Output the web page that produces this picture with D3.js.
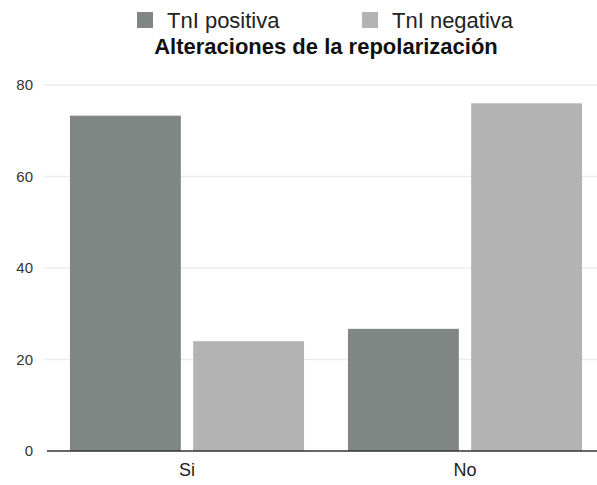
<!DOCTYPE html>
<html>
<head>
<meta charset="utf-8">
<script src="https://cdn.jsdelivr.net/npm/d3@7"></script>
<style>
  html, body { margin: 0; padding: 0; background: #fff; }
  svg { display: block; font-family: "Liberation Sans", Arial, Helvetica, sans-serif; }
</style>
</head>
<body>
<svg id="chart" width="597" height="485"></svg>
<script>
const categories = ["Si", "No"];
const seriesNames = ["TnI positiva", "TnI negativa"];
const tnIPositiva = [73.3, 26.7];
const tnINegativa = [24, 76];
const yTicks = [0, 20, 40, 60, 80];
const colors = ["#7f8683", "#b3b3b3"];

const data = categories.map((c, i) => ({
  cat: c,
  values: [
    { key: seriesNames[0], value: tnIPositiva[i] },
    { key: seriesNames[1], value: tnINegativa[i] }
  ]
}));

const svg = d3.select("#chart");

const x0 = d3.scaleBand().domain(categories).range([48, 604]).paddingInner(0.158).paddingOuter(0.079);
const x1 = d3.scaleBand().domain(seriesNames).range([0, x0.bandwidth()]).paddingInner(0.1);
const y = d3.scaleLinear().domain([0, 80]).range([451, 85]);
const color = d3.scaleOrdinal().domain(seriesNames).range(colors);

// gridlines
svg.append("g")
  .selectAll("line")
  .data(yTicks.filter(d => d > 0))
  .join("line")
  .attr("x1", 44).attr("x2", 597)
  .attr("y1", d => y(d)).attr("y2", d => y(d))
  .attr("stroke", "#ececec").attr("stroke-width", 1.5);

// y axis labels
const yAxis = d3.axisLeft(y).tickValues(yTicks).tickSize(0).tickPadding(0);
const gy = svg.append("g").attr("transform", "translate(33,0)").call(yAxis);
gy.select(".domain").remove();
gy.selectAll("text")
  .attr("font-size", 15)
  .attr("fill", "#333")
  .attr("font-family", "'Liberation Sans', Arial, sans-serif");

// bars
svg.append("g")
  .selectAll("g")
  .data(data)
  .join("g")
  .attr("transform", d => `translate(${x0(d.cat)},0)`)
  .selectAll("rect")
  .data(d => d.values)
  .join("rect")
  .attr("x", d => x1(d.key))
  .attr("width", x1.bandwidth())
  .attr("y", d => y(d.value))
  .attr("height", d => y(0) - y(d.value))
  .attr("fill", d => color(d.key));

// baseline axis
const xAxis = d3.axisBottom(x0).tickSize(0).tickPadding(12);
const gx = svg.append("g").attr("transform", `translate(0,${y(0)})`).call(xAxis);
gx.select(".domain").remove();
gx.append("line")
  .attr("x1", 47).attr("x2", 597)
  .attr("y1", 0).attr("y2", 0)
  .attr("stroke", "#333").attr("stroke-width", 1.6);
gx.selectAll("text")
  .attr("font-size", 18)
  .attr("fill", "#222")
  .attr("font-family", "'Liberation Sans', Arial, sans-serif");

// legend
const legend = svg.append("g");
const legendItems = [
  { key: seriesNames[0], sx: 137, tx: 167 },
  { key: seriesNames[1], sx: 362, tx: 392 }
];
legendItems.forEach(it => {
  legend.append("rect")
    .attr("x", it.sx).attr("y", 12).attr("width", 16).attr("height", 16)
    .attr("fill", color(it.key));
  legend.append("text")
    .attr("x", it.tx).attr("y", 28)
    .attr("font-size", 22)
    .attr("fill", "#222")
    .text(it.key);
});

// title
svg.append("text")
  .attr("x", 326).attr("y", 54)
  .attr("text-anchor", "middle")
  .attr("font-size", 22)
  .attr("font-weight", "bold")
  .attr("fill", "#111")
  .text("Alteraciones de la repolarización");
</script>
</body>
</html>
